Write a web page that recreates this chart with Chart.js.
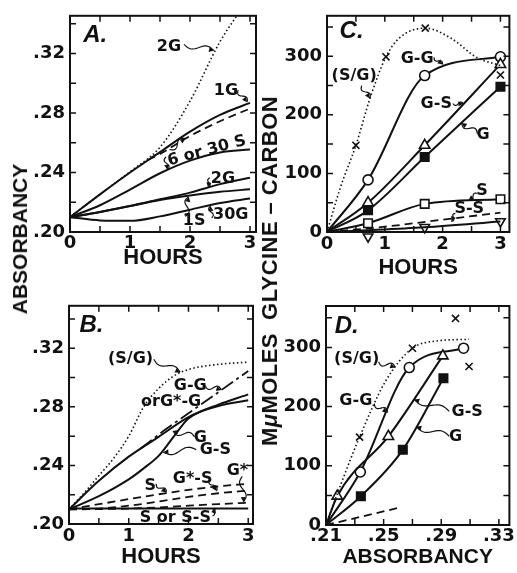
<!DOCTYPE html>
<html>
<head>
<meta charset="utf-8">
<script src="https://cdn.jsdelivr.net/npm/chart.js@4.4.1/dist/chart.umd.min.js"></script>
<style>
  body { margin: 0; background: #fff; width: 517px; height: 573px; position: relative; overflow: hidden; }
  canvas { position: absolute; }
  .vt { position: absolute; font: bold 21px "Liberation Sans", Arial, sans-serif; color: #111;
        white-space: nowrap; transform: translate(-50%, -50%) rotate(-90deg); }
</style>
</head>
<body>
<canvas id="chartA" width="237" height="290" style="left:25px;top:0"></canvas>
<canvas id="chartB" width="237" height="283" style="left:25px;top:290px"></canvas>
<canvas id="chartC" width="237" height="290" style="left:280px;top:0"></canvas>
<canvas id="chartD" width="237" height="283" style="left:280px;top:290px"></canvas>
<div class="vt" style="left:20px;top:239px">ABSORBANCY</div>
<div class="vt" style="left:270px;top:271px;font-size:22px;letter-spacing:0.45px">M<i>μ</i>MOLES&nbsp; GLYCINE – CARBON</div>

<script>
// ---- Panel A: absorbancy against hours
const hoursA = [0, 0.5, 1, 1.5, 2, 2.5, 3];
const a2GDotted = [0.21, 0.2253, 0.2405, 0.257, 0.288, 0.328, 0.358];
const a1G = [0.21, 0.2253, 0.240, 0.2537, 0.2675, 0.2788, 0.2868];
const hoursADash = [1.3, 1.5, 2, 2.5, 3];
const a6or30SDash = [0.2485, 0.2525, 0.2645, 0.2745, 0.283];
const a6or30S = [0.21, 0.218, 0.2285, 0.2395, 0.248, 0.2535, 0.2555];
const a2G = [0.21, 0.2135, 0.2175, 0.222, 0.2265, 0.2322, 0.2365];
const a1S = [0.21, 0.2135, 0.2175, 0.2215, 0.2245, 0.227, 0.2287];
const a30G = [0.21, 0.2078, 0.2075, 0.2105, 0.215, 0.2195, 0.2225];

// ---- Panel B
const hoursBDot = [0, 0.25, 0.5, 0.75, 1, 1.25, 1.5, 1.75, 2, 2.5, 3];
const bSG = [0.21, 0.221, 0.233, 0.245, 0.260, 0.280, 0.2925, 0.301, 0.3055, 0.309, 0.3105];
const hoursB = [0, 0.5, 1, 1.5, 2, 2.5, 3];
const bG = [0.21, 0.2295, 0.246, 0.2595, 0.273, 0.2815, 0.2885];
const hoursBGS = [0, 0.5, 1, 1.25, 1.5, 1.75, 2, 2.5, 3];
const bGS = [0.21, 0.219, 0.2305, 0.238, 0.2465, 0.2595, 0.272, 0.2805, 0.2845];
const hoursBGG = [1.2, 1.63, 2, 2.5, 3];
const bGG = [0.2515, 0.265, 0.2756, 0.290, 0.3045];
const bS = [0.21, 0.2135, 0.217, 0.2203, 0.2233, 0.2257, 0.2275];
const bGstarS = [0.21, 0.2105, 0.2125, 0.2153, 0.2185, 0.221, 0.2228];
const bGstar = [0.21, 0.2102, 0.2105, 0.2113, 0.2125, 0.2136, 0.2145];
const hoursBFlat = [0, 3];
const bSorSS = [0.2105, 0.2105];

// ---- Panel C: glycine carbon against hours
const hoursCDot = [0, 0.235, 0.5, 0.75, 1.02, 1.25, 1.7, 2.14, 2.59, 3.0];
const cSGCurve = [0, 77, 148, 230, 299, 331, 348, 331, 298, 284];
const hoursCX = [0.5, 1.02, 1.7, 3.0];
const cSGMarks = [148, 299, 348, 268];
const hoursC = [0, 0.71, 1.69, 3.0];
const cGG = [0, 89, 267, 299];
const cGS = [0, 50, 148, 286];
const cG = [0, 37, 128, 248];
const cS = [0, 15, 48, 56];
const cSSLine = [0, 3, 8, 18];
const hoursCSS = [0.71, 1.69, 3.0];
const cSSMarks = [-8, 8, 18];
const hoursCDash = [0, 1, 2, 3];
const cDash = [0, 9, 21, 33];

// ---- Panel D: glycine carbon against absorbancy
const absDGG = [0.21, 0.2338, 0.2678, 0.3055];
const dGG = [0, 89.6, 266, 298.7];
const absDGS = [0.21, 0.2178, 0.2533, 0.2911];
const dGS = [0, 48.7, 149.6, 285.7];
const absDG = [0.21, 0.2342, 0.2633, 0.2915];
const dG = [0, 48.7, 127, 248];
const absDSG = [0.21, 0.2205, 0.2333, 0.2515, 0.27, 0.2871, 0.3093];
const dSGCurve = [0, 70, 148.5, 243.7, 298.6, 311, 313.7];
const absDX = [0.2333, 0.27, 0.2999, 0.3093];
const dSGMarks = [148.5, 298.6, 349, 267.8];
const absDDash = [0.21, 0.2615];
const dDash = [0, 29.7];

// ---- tick positions and labels
const hourTicks = [0, 0.5, 1, 1.5, 2, 2.5, 3];
const hourLabels = [0, 1, 2, 3];
const absTicks = [0.20, 0.22, 0.24, 0.26, 0.28, 0.30, 0.32, 0.34];
const absLabels = [0.20, 0.24, 0.28, 0.32];
const carbonTicks = [0, 50, 100, 150, 200, 250, 300, 350];
const carbonLabels = [0, 100, 200, 300];
const absDTicks = [0.21, 0.23, 0.25, 0.27, 0.29, 0.31, 0.33];
const absDLabels = [0.21, 0.25, 0.29, 0.33];

const INK = '#111';
const tickFont = { family: 'DejaVu Sans', weight: 'bold', size: 18 };

const fmtAbs = v => v.toFixed(2).replace(/^0/, '');
const fmtInt = v => String(Math.round(v));

function pts(xs, ys) {
    return xs.map((x, i) => ({ x: x, y: ys[i] }));
}

function curve(xs, ys, extra) {
    return Object.assign({
        data: pts(xs, ys), borderColor: INK, borderWidth: 2, pointRadius: 0,
        cubicInterpolationMode: 'monotone', fill: false
    }, extra || {});
}
const DOT = { borderDash: [1.5, 2.5], borderWidth: 1.6 };
const DASH = { borderDash: [8, 5], borderWidth: 1.8 };
const DASHDOT = { borderDash: [14, 4, 3, 4], borderWidth: 1.8 };

// line with markers (no marker on the origin)
function marked(xs, ys, style, radius, fillColor) {
    return curve(xs, ys, {
        pointStyle: style,
        pointRadius: c => (c.dataIndex === 0 ? 0 : radius),
        pointBackgroundColor: fillColor, pointBorderColor: INK, pointBorderWidth: 1.6
    });
}

function marks(xs, ys, style, radius, fillColor, rot) {
    return {
        data: pts(xs, ys), showLine: false, pointStyle: style, pointRadius: radius,
        pointRotation: rot || 0, pointBackgroundColor: fillColor, pointBorderColor: INK,
        pointBorderWidth: 1.6, clip: false
    };
}

// wavy leader with a small arrow head
function leader(ctx, x1, y1, x2, y2) {
    const dx = x2 - x1, dy = y2 - y1, len = Math.hypot(dx, dy) || 1;
    const nx = -dy / len, ny = dx / len, amp = Math.min(3, len / 6);
    ctx.beginPath();
    for (let i = 0; i <= 24; i++) {
        const t = i / 24, w = amp * Math.sin(t * Math.PI * 2);
        const px = x1 + dx * t + nx * w, py = y1 + dy * t + ny * w;
        if (i) ctx.lineTo(px, py); else ctx.moveTo(px, py);
    }
    ctx.stroke();
    const ux = dx / len, uy = dy / len;
    ctx.beginPath();
    ctx.moveTo(x2, y2);
    ctx.lineTo(x2 - ux * 5 + nx * 2.5, y2 - uy * 5 + ny * 2.5);
    ctx.lineTo(x2 - ux * 5 - nx * 2.5, y2 - uy * 5 - ny * 2.5);
    ctx.closePath();
    ctx.fill();
}

// frame, inward ticks, panel letter and curve labels
const framePlugin = {
    id: 'frame',
    afterDraw(chart, args, opts) {
        const { ctx, chartArea: a, scales: { x, y } } = chart;
        ctx.save();
        ctx.strokeStyle = INK;
        ctx.fillStyle = INK;
        ctx.lineWidth = 2;
        ctx.strokeRect(a.left, a.top, a.right - a.left, a.bottom - a.top);
        ctx.lineWidth = 1.5;
        ctx.beginPath();
        x.ticks.forEach(t => {
            const p = x.getPixelForValue(t.value);
            if (p <= a.left + 1 || p >= a.right - 1) return;
            ctx.moveTo(p, a.bottom); ctx.lineTo(p, a.bottom - 6);
            ctx.moveTo(p, a.top); ctx.lineTo(p, a.top + 6);
        });
        y.ticks.forEach(t => {
            const p = y.getPixelForValue(t.value);
            if (p <= a.top + 1 || p >= a.bottom - 1) return;
            ctx.moveTo(a.left, p); ctx.lineTo(a.left + 6, p);
            ctx.moveTo(a.right, p); ctx.lineTo(a.right - 6, p);
        });
        ctx.stroke();

        ctx.font = 'italic bold 24px "Liberation Sans"';
        ctx.textAlign = 'left';
        ctx.textBaseline = 'middle';
        ctx.fillText(opts.letter.t, x.getPixelForValue(opts.letter.x), y.getPixelForValue(opts.letter.y));

        ctx.font = 'bold 16px "DejaVu Sans"';
        ctx.textAlign = 'center';
        ctx.lineWidth = 1.2;
        (opts.notes || []).forEach(n => {
            const px = x.getPixelForValue(n.x), py = y.getPixelForValue(n.y);
            ctx.save();
            ctx.translate(px, py);
            if (n.rot) ctx.rotate(n.rot * Math.PI / 180);
            ctx.fillText(n.t, 0, 0);
            ctx.restore();
            (n.lead || []).forEach(l => leader(ctx,
                x.getPixelForValue(l[0]), y.getPixelForValue(l[1]),
                x.getPixelForValue(l[2]), y.getPixelForValue(l[3])));
        });
        ctx.restore();
    }
};

function labelFor(v, majors, fmt) {
    return majors.some(m => Math.abs(m - v) < 1e-6) ? fmt(v) : '';
}

function makePanel(id, cfg) {
    return new Chart(document.getElementById(id), {
        type: 'line',
        data: { datasets: cfg.datasets },
        options: {
            responsive: false, animation: false, devicePixelRatio: 1,
            layout: { padding: { top: cfg.padTop, right: cfg.padRight, bottom: 0, left: 0 } },
            plugins: {
                legend: { display: false }, tooltip: { enabled: false },
                frame: { letter: cfg.letter, notes: cfg.notes }
            },
            scales: {
                x: {
                    type: 'linear', min: cfg.xMin, max: cfg.xMax,
                    afterBuildTicks: s => { s.ticks = cfg.xTicks.map(v => ({ value: v })); },
                    afterFit: s => { s.height = cfg.xH; },
                    grid: { display: false, drawTicks: false }, border: { display: false },
                    ticks: {
                        autoSkip: false, maxRotation: 0, padding: cfg.xPad, color: INK, font: tickFont,
                        callback: v => labelFor(v, cfg.xLabels, cfg.xFmt)
                    },
                    title: {
                        display: true, text: cfg.xTitle, color: INK,
                        font: { family: 'Liberation Sans', weight: 'bold', size: cfg.xTitleSize },
                        padding: { top: 0, bottom: cfg.titlePad }
                    }
                },
                y: {
                    min: cfg.yMin, max: cfg.yMax,
                    afterBuildTicks: s => { s.ticks = cfg.yTicks.map(v => ({ value: v })); },
                    afterFit: s => { s.width = cfg.yW; },
                    grid: { display: false, drawTicks: false }, border: { display: false },
                    ticks: {
                        autoSkip: false, padding: 5, color: INK, font: tickFont,
                        callback: v => labelFor(v, cfg.yLabels, cfg.yFmt)
                    }
                }
            }
        },
        plugins: [framePlugin]
    });
}

makePanel('chartA', {
    padTop: 15, padRight: 6, yW: 45, xH: 58, xPad: 1, titlePad: 19, xTitleSize: 22,
    xMin: 0, xMax: 3.1, yMin: 0.20, yMax: 0.3454,
    xTicks: hourTicks, xLabels: hourLabels, xFmt: fmtInt, xTitle: 'HOURS',
    yTicks: absTicks, yLabels: absLabels, yFmt: fmtAbs,
    letter: { t: 'A.', x: 0.22, y: 0.332 },
    datasets: [
        curve(hoursA, a2GDotted, DOT),
        curve(hoursA, a1G),
        curve(hoursADash, a6or30SDash, DASH),
        curve(hoursA, a6or30S),
        curve(hoursA, a2G),
        curve(hoursA, a1S),
        curve(hoursA, a30G)
    ],
    notes: [
        { t: '2G', x: 1.65, y: 0.3247, lead: [[1.9, 0.3262, 2.4, 0.322]] },
        { t: '1G', x: 2.6, y: 0.2947, lead: [[2.8, 0.2955, 2.95, 0.2873]] },
        { t: '6 or 30 S', x: 2.28, y: 0.2545, rot: -15,
          lead: [[1.66, 0.2555, 1.92, 0.2628], [1.6, 0.2505, 1.62, 0.2418]] },
        { t: '2G', x: 2.55, y: 0.2355, lead: [[2.33, 0.2365, 2.3, 0.2300]] },
        { t: '1S', x: 2.07, y: 0.2073, lead: [[1.92, 0.2105, 1.98, 0.2236]] },
        { t: '30G', x: 2.68, y: 0.2118, lead: [[2.36, 0.2095, 2.34, 0.2175]] }
    ]
});

makePanel('chartB', {
    padTop: 14, padRight: 9, yW: 44, xH: 49, xPad: 2, titlePad: 3, xTitleSize: 22,
    xMin: 0, xMax: 3.08, yMin: 0.20, yMax: 0.349,
    xTicks: hourTicks, xLabels: hourLabels, xFmt: fmtInt, xTitle: 'HOURS',
    yTicks: absTicks, yLabels: absLabels, yFmt: fmtAbs,
    letter: { t: 'B.', x: 0.176, y: 0.3356 },
    datasets: [
        curve(hoursBDot, bSG, DOT),
        curve(hoursBGG, bGG, DASHDOT),
        curve(hoursB, bG),
        curve(hoursBGS, bGS),
        curve(hoursB, bS, DASH),
        curve(hoursB, bGstarS, DASH),
        curve(hoursB, bGstar, DASH),
        curve(hoursBFlat, bSorSS)
    ],
    notes: [
        { t: '(S/G)', x: 1.03, y: 0.3125, lead: [[1.42, 0.3125, 1.86, 0.3035]] },
        { t: 'G-G', x: 2.03, y: 0.2942, lead: [[2.28, 0.2945, 2.55, 0.2915]] },
        { t: 'orG*-G', x: 1.71, y: 0.2834 },
        { t: 'G', x: 2.2, y: 0.259, lead: [[2.1, 0.2595, 1.74, 0.2635]] },
        { t: 'G-S', x: 2.45, y: 0.2508, lead: [[2.13, 0.2508, 1.58, 0.2490]] },
        { t: 'S', x: 1.36, y: 0.2258, lead: [[1.46, 0.2275, 1.63, 0.2215]] },
        { t: 'G*-S', x: 2.07, y: 0.2305, lead: [[2.35, 0.2305, 2.47, 0.2225]] },
        { t: 'G*', x: 2.82, y: 0.236, lead: [[2.9, 0.2325, 2.92, 0.2150]] },
        { t: 'S or S-S', x: 1.78, y: 0.2045, lead: [[2.4, 0.2055, 2.45, 0.2108]] }
    ]
});

makePanel('chartC', {
    padTop: 14, padRight: 1, yW: 47, xH: 58, xPad: 2, titlePad: 9, xTitleSize: 22,
    xMin: 0, xMax: 3.155, yMin: 0, yMax: 369,
    xTicks: hourTicks, xLabels: hourLabels, xFmt: fmtInt, xTitle: 'HOURS',
    yTicks: carbonTicks, yLabels: carbonLabels, yFmt: fmtInt,
    letter: { t: 'C.', x: 0.217, y: 343 },
    datasets: [
        curve(hoursCDot, cSGCurve, DOT),
        marks(hoursCX, cSGMarks, 'crossRot', 5, INK),
        curve(hoursCDash, cDash, DASH),
        curve(hoursC, cSSLine),
        marks(hoursCSS, cSSMarks, 'triangle', 5.5, '#fff', 180),
        marked(hoursC, cS, 'rect', 6, '#fff'),
        marked(hoursC, cG, 'rect', 6, INK),
        marked(hoursC, cGS, 'triangle', 6, '#fff'),
        marked(hoursC, cGG, 'circle', 5, '#fff')
    ],
    notes: [
        { t: '(S/G)', x: 0.47, y: 266, lead: [[0.6, 250, 0.74, 228]] },
        { t: 'G-G', x: 1.56, y: 295, lead: [[1.85, 298, 2.0, 286]] },
        { t: 'G-S', x: 1.89, y: 219, lead: [[2.18, 219, 2.36, 219]] },
        { t: 'G', x: 2.7, y: 166, lead: [[2.6, 168, 2.33, 186]] },
        { t: 'S', x: 2.68, y: 70, lead: [[2.6, 66, 2.45, 54]] },
        { t: 'S-S', x: 2.46, y: 39.5, lead: [[2.22, 32, 2.15, 18]] }
    ]
});

makePanel('chartD', {
    padTop: 16, padRight: 0, yW: 46, xH: 48, xPad: 1, titlePad: 3, xTitleSize: 21,
    xMin: 0.21, xMax: 0.3373, yMin: 0, yMax: 370,
    xTicks: absDTicks, xLabels: absDLabels, xFmt: fmtAbs, xTitle: 'ABSORBANCY',
    yTicks: carbonTicks, yLabels: carbonLabels, yFmt: fmtInt,
    letter: { t: 'D.', x: 0.216, y: 335 },
    datasets: [
        curve(absDSG, dSGCurve, DOT),
        marks(absDX, dSGMarks, 'crossRot', 5, INK),
        curve(absDDash, dDash, DASH),
        marked(absDG, dG, 'rect', 6, INK),
        marked(absDGS, dGS, 'triangle', 6, '#fff'),
        marked(absDGG, dGG, 'circle', 5, '#fff')
    ],
    notes: [
        { t: '(S/G)', x: 0.2313, y: 280, lead: [[0.2465, 276, 0.258, 266]] },
        { t: 'G-G', x: 0.2307, y: 210, lead: [[0.2435, 205, 0.2527, 190]] },
        { t: 'G-S', x: 0.308, y: 191.6, lead: [[0.2955, 192, 0.2713, 212]] },
        { t: 'G', x: 0.30, y: 149.6, lead: [[0.2955, 150, 0.2727, 166]] }
    ]
});
</script>
</body>
</html>
